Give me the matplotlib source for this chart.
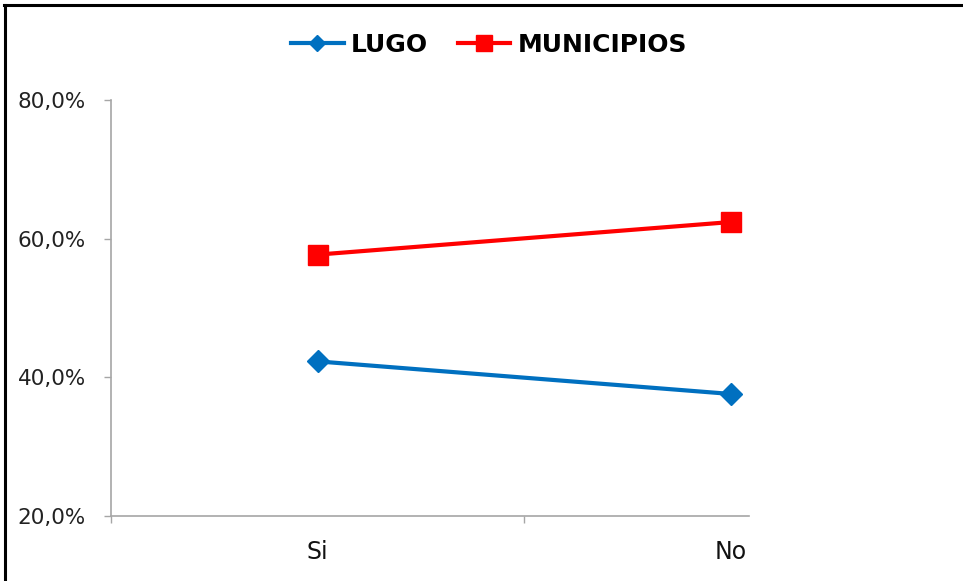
import matplotlib
matplotlib.use("Agg")
import matplotlib.pyplot as plt
from matplotlib.lines import Line2D
from matplotlib.transforms import Bbox, TransformedBbox
from matplotlib.ticker import FuncFormatter, FixedLocator

categories = ["Si", "No"]
lugo = [42.3, 37.6]
municipios = [57.7, 62.4]
yticks = [20, 40, 60, 80]

W, H = 963, 581
fig = plt.figure(figsize=(W / 100, H / 100), dpi=100)
fig.patch.set_facecolor("white")

left, right, bottom, top = 111 / W, 749 / W, (H - 516) / H, (H - 100) / H
ax = fig.add_axes([left, bottom, right - left, top - bottom])

x = list(range(len(categories)))
l1, = ax.plot(x, lugo, color="#0070C0", lw=3, marker="D", ms=11, label="LUGO", clip_on=False)
l2, = ax.plot(x, municipios, color="#FF0000", lw=3, marker="s", ms=15, label="MUNICIPIOS", clip_on=False)

ax.set_xlim(-0.5, 1.0436)
ax.set_ylim(20, 80)
ax.set_yticks(yticks)
ax.yaxis.set_major_formatter(FuncFormatter(lambda v, p: f"{v:.1f}%".replace(".", ",")))
ax.set_xticks(x)
ax.set_xticklabels(categories)
ax.xaxis.set_minor_locator(FixedLocator([-0.5, 0.5]))

for s in ["top", "right"]:
    ax.spines[s].set_visible(False)
for s in ["left", "bottom"]:
    ax.spines[s].set_color("#A6A6A6")
    ax.spines[s].set_linewidth(1.2)

ax.tick_params(axis="y", direction="out", length=5, width=1, color="#A6A6A6", pad=13,
               labelsize=15.5, labelcolor="#222222")
ax.tick_params(axis="x", which="major", length=0, pad=17, labelsize=17, labelcolor="#111111")
ax.tick_params(axis="x", which="minor", direction="out", length=5, width=1, color="#A6A6A6")

clipbox = TransformedBbox(Bbox([[0, 0], [749 / W, 1]]), fig.transFigure)
for lab in ax.get_xticklabels():
    lab.set_clip_on(True)
    lab.set_clip_box(clipbox)

leg = fig.legend(handles=[l1, l2], loc="center", bbox_to_anchor=(489 / W, 1 - 45 / H),
                 ncol=2, frameon=False, handlelength=2.1, handletextpad=0.28,
                 columnspacing=1.2, markerscale=0.78, prop={"weight": "bold", "size": 18})

# figure border (top & left visible)
fig.add_artist(Line2D([5 / W, 5 / W], [0, 1 - 5 / H], color="black", lw=2.2, transform=fig.transFigure))
fig.add_artist(Line2D([4.2 / W, 1], [1 - 5 / H, 1 - 5 / H], color="black", lw=2.2, transform=fig.transFigure))

fig.savefig("out.png", dpi=100, facecolor="white")
